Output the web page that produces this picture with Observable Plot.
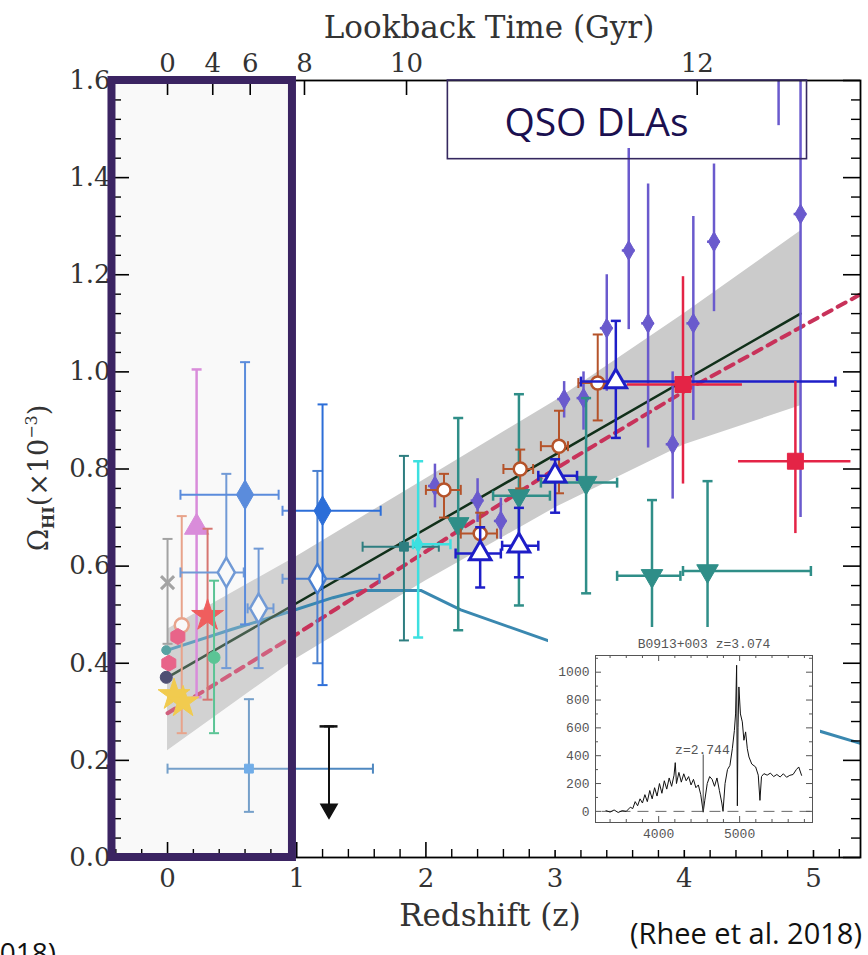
<!DOCTYPE html>
<html><head><meta charset="utf-8">
<script src="https://cdn.jsdelivr.net/npm/d3@7"></script>
<script src="https://cdn.jsdelivr.net/npm/@observablehq/plot@0.6"></script>
<style>
body{margin:0;background:#fff;}
#wrap{position:relative;width:868px;height:955px;overflow:hidden;background:#fff;}
#main{position:absolute;left:0;top:0;}
#inset{position:absolute;left:548px;top:627px;width:272px;height:223px;background:#fff;}
</style></head>
<body><div id="wrap"><div id="main"></div><div id="inset"></div></div>
<script>
// ---------- axis tick labels ----------
const xTicks = [0, 1, 2, 3, 4, 5];
const yTicks = [0, 0.2, 0.4, 0.6, 0.8, 1.0, 1.2, 1.4, 1.6];
const lookGyr = [0, 4, 6, 8, 10, 12];          // top axis labels (Gyr)
const lookZ   = [0, 0.35, 0.64, 1.06, 1.85, 4.1]; // redshift where each label sits

// ---------- measurements ----------
const ptSeries = ["greyX","salmonO","orchidTri","redStar","greenDot","tealDot","crimsonHex","crimsonHex","navyDot","goldStar","goldStar",
  "blueOpenDia","blueOpenDia","blueOpenDia","blueFillDia","blueFillDia","lightBlue","limit","tealSq","cyan",
  "purple","purple","purple","purple","purple","purple","purple","purple","purple","purple","purple","purple","purple",
  "tealDown","tealDown","tealDown","tealDown","tealDown",
  "brownO","brownO","brownO","brownO","brownO",
  "blueTri","blueTri","blueTri","blueTri","redSq","redSq"];
const ptZ = [0.00,0.11,0.225,0.31,0.36,-0.01,0.01,0.08,-0.01,0.05,0.12,
  0.455,0.705,1.16,0.60,1.20,0.63,1.25,1.83,1.94,
  2.07,2.40,2.58,3.07,3.22,3.40,3.57,3.72,3.91,4.07,4.23,4.73,4.90,
  2.25,2.72,3.24,3.75,4.18,
  2.14,2.42,2.73,3.03,3.33,
  2.42,2.72,3.00,3.47,3.99,4.86];
const ptOmega = [0.566,0.478,0.680,0.498,0.412,0.427,0.400,0.455,0.371,0.335,0.320,
  0.587,0.513,0.574,0.747,0.714,0.183,0.27,0.640,0.645,
  0.765,0.735,0.693,0.944,0.946,1.09,1.25,1.10,0.851,1.10,1.268,1.75,1.325,
  0.687,0.745,0.772,0.580,0.590,
  0.757,0.667,0.800,0.847,0.977,
  0.626,0.642,0.786,0.980,0.974,0.816];
const ptOmegaLo = [0.44,0.256,0.33,0.325,0.256,null,null,null,null,null,null,
  0.39,0.39,0.40,0.48,0.355,0.094,0.10,0.447,0.453,
  0.72,0.69,0.655,0.905,0.88,0.96,1.087,0.843,0.738,0.90,1.124,1.507,0.70,
  0.468,0.519,0.544,0.45,0.45,
  0.70,0.62,0.76,0.75,0.90,
  0.556,0.577,0.71,0.864,0.769,0.667];
const ptOmegaHi = [0.656,0.703,1.005,0.677,0.57,null,null,null,null,null,null,
  0.79,0.636,0.796,1.02,0.933,0.326,0.27,0.827,0.816,
  0.81,0.78,0.74,0.98,1.00,1.20,1.46,1.387,1.00,1.32,1.428,2.0,1.80,
  0.905,0.954,0.946,0.736,0.775,
  0.79,0.71,0.84,0.92,1.077,
  0.68,0.72,0.82,1.105,1.196,0.98];
const ptZLo = [null,null,null,null,null,null,null,null,null,null,null,
  0.10,0.62,0.89,0.10,0.89,0.00,null,1.51,1.90,
  2.02,2.35,2.53,3.02,3.17,3.35,3.52,3.67,3.86,4.02,4.18,4.68,4.85,
  null,2.52,2.89,3.48,3.99,
  2.00,2.27,2.60,2.89,3.18,
  2.23,2.59,2.87,3.20,3.56,4.42];
const ptZHi = [null,null,null,null,null,null,null,null,null,null,null,
  0.59,0.82,1.64,0.86,1.65,1.59,null,2.10,2.19,
  2.12,2.45,2.63,3.12,3.27,3.45,3.62,3.77,3.96,4.12,4.28,4.78,4.95,
  null,2.96,3.48,3.97,4.98,
  2.27,2.55,2.83,3.10,3.50,
  2.58,2.87,3.17,5.17,4.45,5.29];

// fitted relations
const fitZ = [0, 4.9];
const fitOmega = [0.371, 1.12];
const dashZ = [0, 1, 2, 3, 4, 5.4];
const dashOmega = [0.297, 0.46, 0.63, 0.80, 0.96, 1.165];
const modelZ = [0, 0.5, 0.93, 1.28, 1.5, 1.96, 2.27, 2.94, 4.0, 5.05, 5.4];
const modelOmega = [0.427, 0.47, 0.505, 0.535, 0.55, 0.55, 0.51, 0.447, 0.35, 0.26, 0.232];
const bandZ = [0, 1, 2, 3, 4, 4.9];
const bandLo = [0.22, 0.41, 0.57, 0.72, 0.85, 0.93];
const bandHi = [0.47, 0.62, 0.78, 0.94, 1.12, 1.29];

// inset spectrum (B0913+003)
const specWave = [3350,3400,3450,3500,3550,3600,3650,3680,3710,3740,3770,3800,3830,3860,3890,3920,3950,3980,4010,4040,4070,4100,4130,4160,4190,4205,4220,4250,4280,4310,4340,4370,4400,4430,4460,4490,4520,4550,4570,4600,4630,4660,4690,4720,4750,4780,4795,4820,4850,4880,4910,4935,4950,4963,4972,4980,4991,5010,5033,5053,5074,5095,5115,5150,5198,5230,5251,5270,5300,5340,5380,5420,5460,5500,5540,5580,5620,5660,5700,5730,5765];
const specFlux = [5,-5,10,-8,5,0,30,20,70,40,90,60,120,70,150,90,170,110,200,130,220,160,240,180,260,350,200,280,210,270,220,250,190,230,170,190,120,-5,80,200,250,230,180,240,150,60,0,200,300,330,450,580,700,1050,40,600,894,700,643,511,571,450,391,340,319,260,79,250,271,260,275,250,265,247,270,245,259,265,300,319,259];
const insetXTicks = [4000, 5000];
const insetYTicks = [0, 200, 400, 600, 800, 1000];
const absorberWave = 4550;

// annotation regions (data units)
const lowZBox = {z1: -0.43, z2: 0.967, o1: 0, o2: 1.6};
const qsoBox = {z1: 2.17, z2: 4.95, o1: 1.438, o2: 1.6};

// ---------- styles ----------
const seriesStyle = {
  greyX:      {color:"#8c8c8c", symbol:"times",    fill:"none",  r:6, sw:3,   ew:2, cap:true},
  salmonO:    {color:"#e88d6c", symbol:"circle",   fill:"#fff",  r:7, sw:2.5, ew:2, cap:true},
  orchidTri:  {color:"#d46ed6", symbol:"triangle", fill:"#d46ed6", r:9, sw:1, ew:2.5, cap:true},
  redStar:    {color:"#f23030", symbol:"star",     fill:"#f23030", r:10, sw:1, ew:2, cap:true, ecolor:"#d0504a"},
  greenDot:   {color:"#2cb87a", symbol:"circle",   fill:"#2cb87a", r:6, sw:1, ew:2, cap:true},
  tealDot:    {color:"#2a8c8c", symbol:"circle",   fill:"#2a8c8c", r:4.5, sw:1, ew:2, cap:true},
  crimsonHex: {color:"#e8386a", symbol:"hexagon",  fill:"#e8386a", r:7, sw:1, ew:2, cap:true},
  navyDot:    {color:"#1c1c4c", symbol:"circle",   fill:"#1c1c4c", r:6, sw:1, ew:2, cap:true},
  goldStar:   {color:"#f4c21c", symbol:"star",     fill:"#f4c21c", r:10, sw:1, ew:2, cap:true},
  blueOpenDia:{color:"#4a80d0", symbol:"diamond",  fill:"#fff",  r:9, sw:2.5, ew:2, cap:true},
  blueFillDia:{color:"#2c6ed8", symbol:"diamond",  fill:"#2c6ed8", r:9, sw:1, ew:2, cap:true},
  lightBlue:  {color:"#4a9ae8", symbol:"square",   fill:"#4a9ae8", r:5, sw:1, ew:2, cap:true, ecolor:"#4f88c0"},
  limit:      {color:"#111111", symbol:null, ew:2, cap:true, arrow:true},
  tealSq:     {color:"#2e7e80", symbol:"square",   fill:"#2e7e80", r:5, sw:1, ew:2, cap:true},
  cyan:       {color:"#3de0e0", symbol:"diamond",  fill:"#3de0e0", r:5, sw:1, ew:2.5, cap:true},
  purple:     {color:"#6a5acd", symbol:"diamond",  fill:"#6a5acd", r:6, sw:1, ew:2.5, cap:false},
  tealDown:   {color:"#2f8e88", symbol:"triangle", fill:"#2f8e88", r:8, sw:1, ew:2.5, cap:true, rotate:180},
  brownO:     {color:"#b5532a", symbol:"circle",   fill:"#fff",  r:6.5, sw:2.5, ew:2, cap:true},
  blueTri:    {color:"#1e1ec8", symbol:"triangle", fill:"#fff",  r:8, sw:3, ew:2.5, cap:true},
  redSq:      {color:"#e42446", symbol:"square",   fill:"#e42446", r:9, sw:1, ew:2.5, cap:false}
};

// ---------- geometry ----------
const W = 868, H = 955, mL = 112, mR = 8, mT = 80, mB = 98;
const xDom = [-0.426, 5.364], yDom = [0, 1.6];
const zPx = (xDom[1] - xDom[0]) / (W - mL - mR);
const oPx = (yDom[1] - yDom[0]) / (H - mT - mB);

const pts = ptZ.map((z, i) => ({s: ptSeries[i], z, om: ptOmega[i], lo: ptOmegaLo[i], hi: ptOmegaHi[i], zlo: ptZLo[i], zhi: ptZHi[i]}));
const band = bandZ.map((z, i) => ({z, lo: bandLo[i], hi: bandHi[i]}));
const fit = fitZ.map((z, i) => ({z, om: fitOmega[i]}));
const dash = dashZ.map((z, i) => ({z, om: dashOmega[i]}));
const model = modelZ.map((z, i) => ({z, om: modelOmega[i]}));

const hCap = {draw(ctx, size) { const r = Math.sqrt(size / Math.PI); ctx.moveTo(-r, 0); ctx.lineTo(r, 0); }};
const vCap = {draw(ctx, size) { const r = Math.sqrt(size / Math.PI); ctx.moveTo(0, -r); ctx.lineTo(0, r); }};

const marks = [
  Plot.areaY(band, {x: "z", y1: "lo", y2: "hi", fill: "#cbcbcb"}),
  Plot.line(model, {x: "z", y: "om", stroke: "#3a88b0", strokeWidth: 3, clip: true}),
  Plot.line(fit, {x: "z", y: "om", stroke: "#11301a", strokeWidth: 2.5}),
  Plot.line(dash, {x: "z", y: "om", stroke: "#c8325a", strokeWidth: 4, strokeDasharray: "9,7", clip: true})
];

for (const s of [...new Set(ptSeries)]) {
  const st = seriesStyle[s];
  const rows = pts.filter(d => d.s === s);
  const ye = rows.filter(d => d.lo != null);
  const xe = rows.filter(d => d.zlo != null);
  const ec = st.ecolor || st.color;
  marks.push(Plot.ruleY(xe, {y: "om", x1: "zlo", x2: "zhi", stroke: ec, strokeWidth: st.ew, clip: true}));
  marks.push(Plot.ruleX(ye, {x: "z", y1: "lo", y2: "hi", stroke: ec, strokeWidth: st.ew, clip: true}));
  if (st.cap) {
    marks.push(Plot.dot(xe, {x: "zlo", y: "om", symbol: vCap, r: 5, fill: "none", stroke: ec, strokeWidth: st.ew, clip: true}));
    marks.push(Plot.dot(xe, {x: "zhi", y: "om", symbol: vCap, r: 5, fill: "none", stroke: ec, strokeWidth: st.ew, clip: true}));
    marks.push(Plot.dot(ye, {x: "z", y: "hi", symbol: hCap, r: 5, fill: "none", stroke: ec, strokeWidth: st.ew, clip: true}));
    if (!st.arrow) marks.push(Plot.dot(ye, {x: "z", y: "lo", symbol: hCap, r: 5, fill: "none", stroke: ec, strokeWidth: st.ew, clip: true}));
  }
  if (st.arrow) {
    marks.push(Plot.ruleY(ye, {y: "hi", x1: d => d.z - 9 * zPx, x2: d => d.z + 9 * zPx, stroke: ec, strokeWidth: 2.5}));
    marks.push(Plot.dot(ye, {x: "z", y: "lo", symbol: "triangle", rotate: 180, r: 6, fill: ec, stroke: ec}));
  }
  if (st.symbol) {
    marks.push(Plot.dot(rows, {x: "z", y: "om", symbol: st.symbol, r: st.r, fill: st.fill, stroke: st.color,
      strokeWidth: st.sw, rotate: st.rotate || 0, clip: true}));
  }
}

// faded low-z region
marks.push(Plot.rect([lowZBox], {x1: "z1", x2: "z2", y1: "o1", y2: "o2", fill: "#e6e6e6", fillOpacity: 0.25}));

// inward ticks
const yMinor = d3.range(0.04, 1.6, 0.04).filter(v => Math.abs(v * 5 - Math.round(v * 5)) > 1e-6);
const xMinor = d3.range(-0.4, 5.3, 0.2).filter(v => Math.abs(v - Math.round(v)) > 1e-6);
marks.push(
  Plot.ruleY(yTicks, {y: d => d, x1: () => xDom[0], x2: () => xDom[0] + 17 * zPx, stroke: "#000", strokeWidth: 1.6}),
  Plot.ruleY(yMinor, {y: d => d, x1: () => xDom[0], x2: () => xDom[0] + 9 * zPx, stroke: "#000", strokeWidth: 1.4}),
  Plot.ruleY(yTicks, {y: d => d, x1: () => xDom[1] - 17 * zPx, x2: () => xDom[1], stroke: "#000", strokeWidth: 1.6}),
  Plot.ruleY(yMinor, {y: d => d, x1: () => xDom[1] - 9 * zPx, x2: () => xDom[1], stroke: "#000", strokeWidth: 1.4}),
  Plot.ruleX(xTicks, {x: d => d, y1: () => 0, y2: () => 15 * oPx, stroke: "#000", strokeWidth: 1.6}),
  Plot.ruleX(xMinor, {x: d => d, y1: () => 0, y2: () => 8 * oPx, stroke: "#000", strokeWidth: 1.4}),
  Plot.ruleX(lookZ, {x: d => d, y1: () => 1.6 - 15 * oPx, y2: () => 1.6, stroke: "#000", strokeWidth: 1.6}),
  Plot.frame({stroke: "#000", strokeWidth: 1.8}),
  Plot.axisX(xTicks, {anchor: "bottom", tickSize: 0, tickPadding: 11, label: null, tickFormat: d => String(d), fill: "#333"}),
  Plot.axisX(lookZ, {anchor: "top", tickSize: 0, tickPadding: 9, label: null, tickFormat: d => String(lookGyr[lookZ.indexOf(d)]), fill: "#333"}),
  Plot.axisY(yTicks, {anchor: "left", tickSize: 0, tickPadding: 2, label: null, tickFormat: d3.format(".1f"), fill: "#333"}),
  // annotation boxes
  Plot.rect([qsoBox], {x1: "z1", x2: "z2", y1: "o1", y2: "o2", fill: "none", stroke: "#35285f", strokeWidth: 1.6}),
  Plot.text(["QSO DLAs"], {x: () => 3.32, y: () => 1.485, text: d => d, lineAnchor: "bottom", fontSize: 39,
    fontFamily: "Open Sans", fill: "#1b1050"}),
  Plot.rect([lowZBox], {x1: "z1", x2: "z2", y1: "o1", y2: "o2", fill: "none", stroke: "#3b2462", strokeWidth: 8})
);

const main = Plot.plot({
  width: W, height: H, marginLeft: mL, marginRight: mR, marginTop: mT, marginBottom: mB,
  x: {domain: xDom, label: null}, y: {domain: yDom, label: null},
  style: {fontFamily: "DejaVu Serif", fontSize: "26px", background: "transparent", color: "#222"},
  marks
});
document.getElementById("main").appendChild(main);

const svg = d3.select(main);
svg.append("text").attr("x", 489).attr("y", 38).attr("text-anchor", "middle")
  .attr("font-family", "DejaVu Serif").attr("font-size", 31).attr("fill", "#333").text("Lookback Time (Gyr)");
svg.append("text").attr("x", 490).attr("y", 926).attr("text-anchor", "middle")
  .attr("font-family", "DejaVu Serif").attr("font-size", 31).attr("fill", "#333").text("Redshift (z)");
const yl = svg.append("text").attr("transform", "translate(48,478) rotate(-90)").attr("text-anchor", "middle")
  .attr("font-family", "DejaVu Serif").attr("font-size", 27).attr("fill", "#333");
yl.append("tspan").text("Ω");
yl.append("tspan").attr("font-size", 16).attr("font-weight", "bold").attr("dy", 6).text("HI");
yl.append("tspan").attr("dy", -6).text("(×10");
yl.append("tspan").attr("font-size", 16).attr("dy", -11).text("−3");
yl.append("tspan").attr("dy", 11).text(")");
svg.append("text").attr("x", 862).attr("y", 944).attr("text-anchor", "end")
  .attr("font-family", "Open Sans").attr("font-size", 29).attr("fill", "#111").text("(Rhee et al. 2018)");
svg.append("text").attr("x", 56).attr("y", 963).attr("text-anchor", "end")
  .attr("font-family", "Open Sans").attr("font-size", 28).attr("fill", "#111").text("2018)");

// ---------- inset spectrum ----------
const spec = specWave.map((w, i) => ({w, f: specFlux[i]}));
const iW = 272, iH = 223, iL = 47, iR = 8, iT = 28, iB = 28;
const ixDom = [3220, 5900], iyDom = [-80, 1120];
const wPx = (ixDom[1] - ixDom[0]) / (iW - iL - iR);
const fPx = (iyDom[1] - iyDom[0]) / (iH - iT - iB);
const ixMinor = d3.range(3400, 5900, 200).filter(v => v % 1000 !== 0);
const iyMinor = d3.range(-0, 1120, 100).filter(v => v % 200 !== 0);
const inset = Plot.plot({
  width: iW, height: iH, marginLeft: iL, marginRight: iR, marginTop: iT, marginBottom: iB,
  x: {domain: ixDom, label: null}, y: {domain: iyDom, label: null},
  style: {fontFamily: "Liberation Mono", fontSize: "13px", background: "#fff", color: "#555"},
  marks: [
    Plot.ruleY([0], {y: d => d, x1: () => 3300, x2: () => 5880, stroke: "#666", strokeWidth: 1, strokeDasharray: "11,7"}),
    Plot.line(spec, {x: "w", y: "f", stroke: "#111", strokeWidth: 1}),
    Plot.ruleX([absorberWave], {x: d => d, y1: () => -10, y2: () => 405, stroke: "#444", strokeWidth: 1}),
    Plot.text(["z=2.744"], {x: () => absorberWave - 10, y: () => 445, text: d => d, fill: "#555", fontSize: 13}),
    Plot.ruleX(insetXTicks, {x: d => d, y1: () => iyDom[0], y2: () => iyDom[0] + 6 * fPx, stroke: "#555"}),
    Plot.ruleX(insetXTicks, {x: d => d, y1: () => iyDom[1] - 6 * fPx, y2: () => iyDom[1], stroke: "#555"}),
    Plot.ruleX(ixMinor, {x: d => d, y1: () => iyDom[0], y2: () => iyDom[0] + 3 * fPx, stroke: "#555"}),
    Plot.ruleX(ixMinor, {x: d => d, y1: () => iyDom[1] - 3 * fPx, y2: () => iyDom[1], stroke: "#555"}),
    Plot.ruleY(insetYTicks, {y: d => d, x1: () => ixDom[0], x2: () => ixDom[0] + 6 * wPx, stroke: "#555"}),
    Plot.ruleY(insetYTicks, {y: d => d, x1: () => ixDom[1] - 6 * wPx, x2: () => ixDom[1], stroke: "#555"}),
    Plot.ruleY(iyMinor, {y: d => d, x1: () => ixDom[0], x2: () => ixDom[0] + 3 * wPx, stroke: "#555"}),
    Plot.ruleY(iyMinor, {y: d => d, x1: () => ixDom[1] - 3 * wPx, x2: () => ixDom[1], stroke: "#555"}),
    Plot.frame({stroke: "#555", strokeWidth: 1}),
    Plot.axisX(insetXTicks, {anchor: "bottom", tickSize: 0, tickPadding: 6, label: null, tickFormat: d => String(d)}),
    Plot.axisY(insetYTicks, {anchor: "left", tickSize: 0, tickPadding: 6, label: null, tickFormat: d => String(d)}),
    Plot.text(["B0913+003 z=3.074"], {frameAnchor: "top", dy: -17, text: d => d, fontSize: 13, fill: "#555"})
  ]
});
document.getElementById("inset").appendChild(inset);
</script>
</body></html>
